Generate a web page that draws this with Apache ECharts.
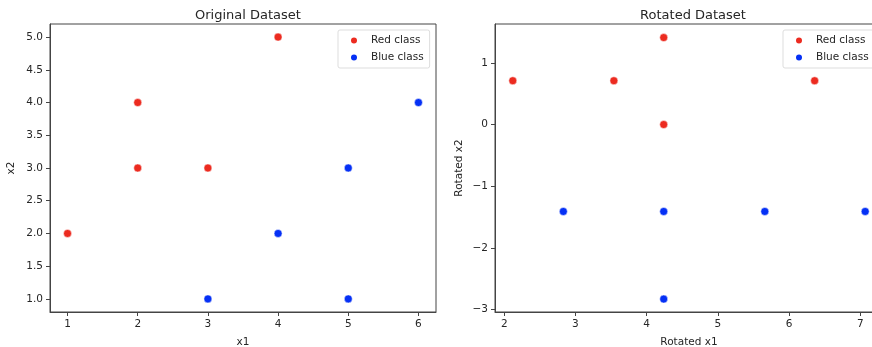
<!DOCTYPE html>
<html>
<head>
<meta charset="utf-8">
<script src="https://cdn.jsdelivr.net/npm/echarts@6/dist/echarts.min.js"></script>
<style>
  html, body { margin: 0; padding: 0; background: #fff; }
  #chart { width: 872px; height: 347px; }
</style>
</head>
<body>
<div id="chart"></div>
<script>
// original points
var redOrig = [[1, 2], [2, 3], [2, 4], [3, 3], [4, 5]];
var blueOrig = [[3, 1], [4, 2], [5, 1], [5, 3], [6, 4]];

// rotated points
var redRot = [[2.12, 0.71], [3.54, 0.71], [4.24, 1.41], [4.24, 0], [6.36, 0.71]];
var blueRot = [[2.83, -1.41], [4.24, -1.41], [4.24, -2.83], [5.66, -1.41], [7.07, -1.41]];

// tick labels
var origXTicks = [1, 2, 3, 4, 5, 6];
var origYTicks = [1.0, 1.5, 2.0, 2.5, 3.0, 3.5, 4.0, 4.5, 5.0];
var rotXTicks = [2, 3, 4, 5, 6, 7];
var rotYTicks = [-3, -2, -1, 0, 1];

var RED = '#ec2b20';
var BLUE = '#0530f5';
var FONT = 'DejaVu Sans';
var TXT = '#262626';
var FS = 10.5;

function axisCommon(ticks, fmt) {
  return {
    axisLine: { show: true, onZero: false, lineStyle: { color: '#444', width: 1 } },
    axisTick: { show: true, length: 4, customValues: ticks, lineStyle: { color: '#444' } },
    axisLabel: {
      customValues: ticks,
      formatter: fmt,
      color: TXT, fontFamily: FONT, fontSize: FS, margin: 7
    },
    splitLine: { show: false },
    nameTextStyle: { color: TXT, fontFamily: FONT, fontSize: FS }
  };
}

function minusFmt(v) { return String(v).replace('-', '\u2212'); }
function oneDec(v) { return Number(v).toFixed(1); }

var xOrig = Object.assign(axisCommon(origXTicks, function (v) { return String(v); }), {
  type: 'value', gridIndex: 0, min: 0.75, max: 6.25,
  name: 'x1', nameLocation: 'middle', nameGap: 25
});
var yOrig = Object.assign(axisCommon(origYTicks, oneDec), {
  type: 'value', gridIndex: 0, min: 0.8, max: 5.2,
  name: 'x2', nameLocation: 'middle', nameGap: 33
});
var xRot = Object.assign(axisCommon(rotXTicks, minusFmt), {
  type: 'value', gridIndex: 1, min: 1.87, max: 7.32,
  name: 'Rotated x1', nameLocation: 'middle', nameGap: 25
});
var yRot = Object.assign(axisCommon(rotYTicks, minusFmt), {
  type: 'value', gridIndex: 1, min: -3.04, max: 1.63,
  name: 'Rotated x2', nameLocation: 'middle', nameGap: 30
});

function legendAt(left, names) {
  return {
    left: left, top: 30, orient: 'vertical', itemGap: 6, itemWidth: 8, itemHeight: 8,
    padding: [5, 6, 5, 11],
    borderColor: '#ddd', borderWidth: 1, borderRadius: 2,
    textStyle: { fontFamily: FONT, fontSize: FS, color: TXT, padding: [0, 0, 0, 8] },
    data: [{ name: names[0], icon: 'circle' }, { name: names[1], icon: 'circle' }]
  };
}

var chart = echarts.init(document.getElementById('chart'));
var option = {
  animation: false,
  backgroundColor: '#fff',
  title: [
    { text: 'Original Dataset', left: 243, top: 4, textAlign: 'center',
      textStyle: { fontFamily: FONT, fontSize: 13, fontWeight: 'normal', color: TXT } },
    { text: 'Rotated Dataset', left: 688, top: 4, textAlign: 'center',
      textStyle: { fontFamily: FONT, fontSize: 13, fontWeight: 'normal', color: TXT } }
  ],
  legend: [
    legendAt(338, ['Red class', 'Blue class']),
    legendAt(783, ['Red class ', 'Blue class '])
  ],
  grid: [
    { left: 50, top: 24, width: 386, height: 288, outerBoundsMode: 'none', containLabel: false,
      show: true, borderColor: '#444', borderWidth: 1 },
    { left: 495, top: 24, width: 388, height: 288, outerBoundsMode: 'none', containLabel: false,
      show: true, borderColor: '#444', borderWidth: 1 }
  ],
  xAxis: [xOrig, xRot],
  yAxis: [yOrig, yRot],
  series: [
    { name: 'Red class', type: 'scatter', xAxisIndex: 0, yAxisIndex: 0, symbolSize: 8,
      itemStyle: { color: RED, borderColor: '#fff', borderWidth: 0.5, opacity: 1 }, data: redOrig },
    { name: 'Blue class', type: 'scatter', xAxisIndex: 0, yAxisIndex: 0, symbolSize: 8,
      itemStyle: { color: BLUE, borderColor: '#fff', borderWidth: 0.5, opacity: 1 }, data: blueOrig },
    { name: 'Red class ', type: 'scatter', xAxisIndex: 1, yAxisIndex: 1, symbolSize: 8,
      itemStyle: { color: RED, borderColor: '#fff', borderWidth: 0.5, opacity: 1 }, data: redRot },
    { name: 'Blue class ', type: 'scatter', xAxisIndex: 1, yAxisIndex: 1, symbolSize: 8,
      itemStyle: { color: BLUE, borderColor: '#fff', borderWidth: 0.5, opacity: 1 }, data: blueRot }
  ]
};
chart.setOption(option);
</script>
</body>
</html>
